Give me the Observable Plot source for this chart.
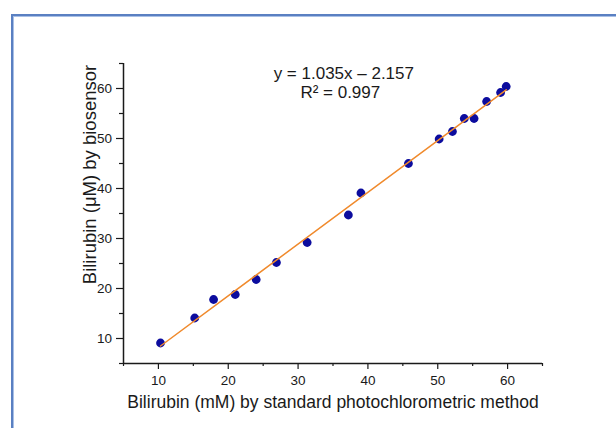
<!DOCTYPE html>
<html>
<head>
<meta charset="utf-8">
<script src="https://cdn.jsdelivr.net/npm/d3@7"></script>
<script src="https://cdn.jsdelivr.net/npm/@observablehq/plot@0.6"></script>
<style>
  html, body { margin: 0; padding: 0; background: #fff; }
  #wrap { position: relative; width: 616px; height: 428px; overflow: hidden; }
  #border { position: absolute; left: 11px; top: 14px; width: 700px; height: 500px;
            border-left: 2px solid #5a80c2; border-top: 2px solid #5a80c2;
            box-shadow: inset 1px 1px 0 #a9c0e6; }
  #chart { position: absolute; left: 0; top: 0; }
</style>
</head>
<body>
<div id="wrap"><div id="border"></div><div id="chart"></div></div>
<script>
// Data
const standardMethod = [10.3, 15.2, 17.9, 21.0, 24.0, 26.9, 31.3, 37.2, 39.0, 45.8, 50.2, 52.1, 53.8, 55.2, 57.0, 59.0, 59.8];
const biosensor      = [9.1, 14.1, 17.8, 18.8, 21.8, 25.2, 29.2, 34.7, 39.1, 45.0, 49.9, 51.4, 54.0, 54.0, 57.4, 59.2, 60.4];
const fitSlope = [1.035];
const fitIntercept = [-2.157];
const xMajorTicks = [10, 20, 30, 40, 50, 60];
const xMinorTicks = [5, 15, 25, 35, 45, 55, 65];
const yMajorTicks = [10, 20, 30, 40, 50, 60];
const yMinorTicks = [5, 15, 25, 35, 45, 55, 65];
const equationLine1 = ["y = 1.035x \u2013 2.157"];
const equationLine2 = ["R\u00b2 = 0.997"];
const xLabel = ["Bilirubin (mM) by standard photochlorometric method"];
const yLabel = ["Bilirubin (\u03bcM) by biosensor"];

const points = standardMethod.map((x, i) => ({x, y: biosensor[i]}));
const xMin = d3.min(standardMethod), xMax = d3.max(standardMethod);
const fit = [xMin, xMax].map(x => ({x, y: fitSlope[0] * x + fitIntercept[0]}));

const ink = "#1a1a1a";
const chart = Plot.plot({
  width: 616,
  height: 428,
  marginLeft: 123,
  marginRight: 74,
  marginTop: 63,
  marginBottom: 65,
  style: {fontFamily: "'Liberation Sans', Arial, sans-serif", background: "transparent", color: ink},
  x: {domain: [5, 65]},
  y: {domain: [5, 65]},
  marks: [
    Plot.axisX({ticks: xMajorTicks, tickSize: 6, tickFormat: () => "", label: null, stroke: ink, strokeWidth: 1.2}),
    Plot.axisX({ticks: xMinorTicks, tickSize: 3, tickFormat: () => "", label: null, stroke: ink, strokeWidth: 1.2}),
    Plot.axisY({ticks: yMajorTicks, tickSize: 7, tickFormat: () => "", label: null, stroke: ink, strokeWidth: 1.2}),
    Plot.axisY({ticks: yMinorTicks, tickSize: 4, tickFormat: () => "", label: null, stroke: ink, strokeWidth: 1.2}),
    Plot.text(xMajorTicks, {x: d => d, text: d => String(d), frameAnchor: "bottom", dy: 21.5, lineAnchor: "bottom", fontSize: 13.5, fill: ink}),
    Plot.text(yMajorTicks, {y: d => d, text: d => String(d), frameAnchor: "left", dx: -11.5, textAnchor: "end", lineAnchor: "middle", fontSize: 13.5, fill: ink}),
    Plot.ruleY([5], {stroke: ink, strokeWidth: 1.5}),
    Plot.ruleX([5], {stroke: ink, strokeWidth: 1.5}),
    Plot.dot(points, {x: "x", y: "y", r: 4.4, fill: "#0c0c9e", stroke: "none"}),
    Plot.line(fit, {x: "x", y: "y", stroke: "#f08a2c", strokeWidth: 1.5}),
    Plot.text(equationLine1, {text: d => d, frameAnchor: "top", dx: 10.8, dy: 15.8, lineAnchor: "bottom", fontSize: 17, fill: ink}),
    Plot.text(equationLine2, {text: d => d, frameAnchor: "top", dx: 7.3, dy: 34.8, lineAnchor: "bottom", fontSize: 17, fill: ink}),
    Plot.text(xLabel, {text: d => d, frameAnchor: "bottom", dy: 44, lineAnchor: "bottom", fontSize: 17.5, fill: ink}),
    Plot.text(yLabel, {text: d => d, frameAnchor: "left", rotate: -90, dx: -33, dy: -39, lineAnchor: "middle", textAnchor: "middle", fontSize: 18.5, fill: ink})
  ]
});
document.getElementById("chart").appendChild(chart);
</script>
</body>
</html>
